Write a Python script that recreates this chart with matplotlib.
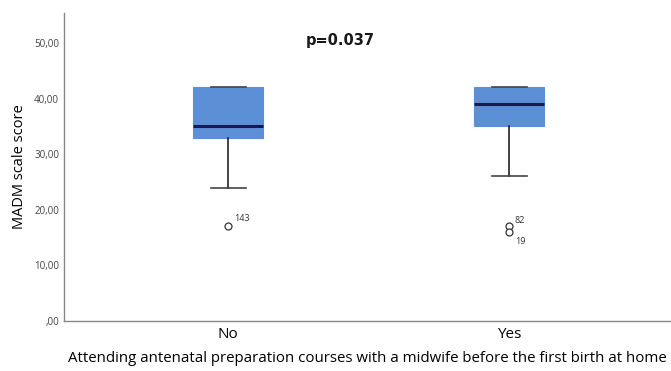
import matplotlib.pyplot as plt
from matplotlib.ticker import FuncFormatter

plt.rcParams['font.family'] = ['Open Sans', 'DejaVu Sans']

# box plot summary values
categories = ['No', 'Yes']
whisker_low = [24, 26]
q1 = [33, 35]
medians = [35, 39]
q3 = [42, 42]
whisker_high = [42, 42]
outliers = [[17], [17, 16]]
outlier_ids = [['143'], ['82', '19']]
p_text = 'p=0.037'

positions = [1, 2]
stats = []
for i, cat in enumerate(categories):
    stats.append({
        'label': cat, 'med': medians[i], 'q1': q1[i], 'q3': q3[i],
        'whislo': whisker_low[i], 'whishi': whisker_high[i],
        'fliers': outliers[i],
    })

fig = plt.figure(figsize=(6.71, 3.71), dpi=100)
ax = fig.add_axes([0.0954, 0.1348, 0.9046, 0.8302])

ax.bxp(stats, positions=positions, widths=0.25, patch_artist=True,
       boxprops=dict(facecolor='#5b8fd6', edgecolor='#5b8fd6', linewidth=0.8),
       medianprops=dict(color='#141a52', linewidth=2.2),
       whiskerprops=dict(color='#222222', linewidth=1.2),
       capprops=dict(color='#444444', linewidth=1.2),
       capwidths=0.125,
       flierprops=dict(marker='o', markerfacecolor='white', markeredgecolor='#333333',
                       markersize=5, markeredgewidth=0.9))

# case labels next to outliers
offsets = {'143': (4, 6), '82': (4, 4), '19': (4, -7)}
for i, ids in enumerate(outlier_ids):
    for val, lab in zip(outliers[i], ids):
        dx, dy = offsets[lab]
        ax.annotate(lab, (positions[i], val), xytext=(dx, dy), textcoords='offset points',
                    fontsize=6.5, color='#333333', va='center', ha='left')

ax.text(1.40, 50.5, p_text, fontsize=10.5, fontweight='bold', ha='center', va='center',
        family=['DejaVu Sans'], color='#1a1a1a')

ax.set_xlim(0.416, 2.576)
ax.set_ylim(0, 55.4)
ax.set_yticks([0, 10, 20, 30, 40, 50])
ax.yaxis.set_major_formatter(FuncFormatter(
    lambda v, p: ',00' if v == 0 else f'{v:.2f}'.replace('.', ',')))
ax.tick_params(axis='y', length=0, labelsize=7, labelcolor='#444444', pad=3.5)
ax.tick_params(axis='x', length=0, labelsize=11, pad=4)
ax.set_xticks(positions)
ax.set_xticklabels(categories)

ax.set_ylabel('MADM scale score', fontsize=10.5, labelpad=5)
ax.set_xlabel('Attending antenatal preparation courses with a midwife before the first birth at home',
              fontsize=10.8, labelpad=7)

for side in ['top', 'right']:
    ax.spines[side].set_visible(False)
for side in ['left', 'bottom']:
    ax.spines[side].set_color('#888888')
    ax.spines[side].set_linewidth(1.0)

fig.savefig('out.png', dpi=100)
